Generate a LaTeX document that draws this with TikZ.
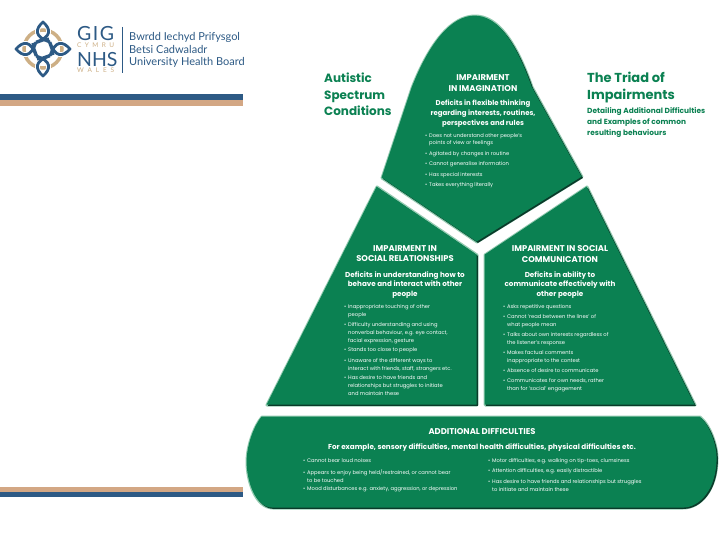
\documentclass[tikz,border=0pt]{standalone}
\usepackage{fontspec}
\setmainfont{Poppins}
\newfontfamily\lato{Lato}
\definecolor{gmain}{HTML}{0B8152}
\definecolor{gdark}{HTML}{0B3A2A}
\definecolor{glight}{HTML}{92CBB0}
\definecolor{nblue}{HTML}{2D5A85}
\definecolor{ntan}{HTML}{D3A784}
\definecolor{nring}{HTML}{CDAF85}
\newcommand{\pTop}{(382,178) -- (412,88) .. controls (430,42) and (452,16) .. (475,16) .. controls (498,16) and (516,42) .. (532,87) -- (582,177) -- (477,242) -- cycle}
\newcommand{\pLeft}{(377,187) -- (477,255) -- (477,405) -- (267,405) -- cycle}
\newcommand{\pRight}{(587,187) -- (695,405) -- (485,405) -- (485,255) -- cycle}
\newcommand{\pBot}{(262,417) -- (700,417) .. controls (710,425) and (717,445) .. (717,458) .. controls (717,490) and (700,508) .. (683,508) -- (273,508) .. controls (255,508) and (247,480) .. (247,462) .. controls (247,445) and (255,425) .. (262,417) -- cycle}
\newcommand{\panel}[1]{%
  \draw[glight,line width=3,line join=round] #1;
  \begin{scope}[shift={(0.9,0.9)}]\fill[gdark] #1;\end{scope}
  \begin{scope}[shift={(-0.4,-0.4)}]\fill[gmain] #1;\end{scope}}
\newcommand{\spaced}[2]{\makebox[#1][s]{#2}}
\tikzset{
  title/.style={text=white,inner sep=0,align=center,font=\fontsize{8.4}{10.3}\selectfont\bfseries},
  sub/.style={text=white,inner sep=0,align=center,font=\fontsize{7.2}{9.8}\selectfont\bfseries},
  bul/.style={text=white,inner sep=0,align=left,anchor=north west,font=\fontsize{5.2}{8}\selectfont},
  head/.style={text=gmain,inner sep=0,align=left,anchor=north west,font=\fontsize{12}{16.4}\selectfont\bfseries},
  logo/.style={text=nblue,inner sep=0,anchor=west,font=\lato\fontsize{11}{13}\selectfont},
}
\newcommand{\bu}{\llap{•\hspace{2pt}}}
\begin{document}
\begin{tikzpicture}[x=1pt,y=-1pt]
\useasboundingbox (0,0) rectangle (720,540);
\fill[white] (0,0) rectangle (720,540);
% bars
\fill[nblue] (0,94) rectangle (243,100);
\fill[ntan] (0,100) rectangle (243,106);
\fill[ntan] (0,487) rectangle (243,492);
\fill[nblue] (0,492) rectangle (243,497);
% logo
\draw[nring,line width=3.5] (43,49) circle (19);
\foreach \a in {0,90,180,270}{
  \begin{scope}[shift={(43,49)},rotate=\a]
   \draw[white,line width=4.6] (7,7) .. controls (12,-9) and (20,-8) .. (27,0) .. controls (20,8) and (12,9) .. (7,-7);
   \draw[nblue,line width=2.8,line join=round] (7,7) .. controls (12,-9) and (20,-8) .. (27,0) .. controls (20,8) and (12,9) .. (7,-7);
  \end{scope}}
\draw[nblue,line width=2.2,rotate around={20:(43,49)}] (35,41) rectangle (51,57);
\node[logo,font=\lato\fontsize{19.5}{20}\selectfont] (gig) at (77,34) {\spaced{37pt}{G\hfil I\hfil G}};
\node[logo,text=nring,font=\lato\fontsize{6.5}{7}\selectfont] (cymru) at (77,45.5) {\spaced{37pt}{C\hfil Y\hfil M\hfil R\hfil U}};
\node[logo,font=\lato\fontsize{19.5}{20}\selectfont] (nhs) at (77,60) {\spaced{37pt}{N\hfil H\hfil S}};
\node[logo,text=nring,font=\lato\fontsize{6.5}{7}\selectfont] (wales) at (77,70.5) {\spaced{37pt}{W\hfil A\hfil L\hfil E\hfil S}};
\draw[nblue,line width=0.8] (122.5,27) -- (122.5,73);
\node[logo] (l1) at (129,37) {Bwrdd Iechyd Prifysgol};
\node[logo] (l2) at (129,49.5) {Betsi Cadwaladr};
\node[logo] (l3) at (129,62.5) {University Health Board};
% panels
\panel{\pTop}
\panel{\pLeft}
\panel{\pRight}
\panel{\pBot}
% headings
\node[head] (h1) at (324,73) {Autistic\\Spectrum\\Conditions};
\node[head,font=\fontsize{13}{16.4}\selectfont\bfseries] (h2) at (587,72) {The Triad of\\Impairments};
\node[head,font=\fontsize{7.4}{11}\selectfont\bfseries] (h3) at (587,107) {Detailing Additional Difficulties\\and Examples of common\\resulting behaviours};
% top
\node[title] (t1) at (483,83) {IMPAIRMENT\\IN IMAGINATION};
\node[sub,font=\fontsize{7}{10}\selectfont\bfseries] (t2) at (483,114) {Deficits in flexible thinking\\regarding interests, routines,\\perspectives and rules};
\node[bul,font=\fontsize{5.2}{7.4}\selectfont] (t3) at (429,133) {\bu Does not understand other people's\\points of view or feelings};
\node[bul] (t4) at (429,151) {\bu Agitated by changes in routine};
\node[bul] (t5) at (429,161) {\bu Cannot generalise information};
\node[bul] (t6) at (429,172) {\bu Has special interests};
\node[bul] (t7) at (429,182) {\bu Takes everything literally};
% left
\node[title] (a1) at (405,253.5) {IMPAIRMENT IN\\SOCIAL RELATIONSHIPS};
\node[sub] (a2) at (405,285) {Deficits in understanding how to\\behave and interact with other\\people};
\node[bul] (a3) at (348,304) {\bu Inappropriate touching of other\\people};
\node[bul] (a4) at (348,322) {\bu Difficulty understanding and using\\nonverbal behaviour, e.g. eye contact,\\facial expression, gesture};
\node[bul] (a5) at (348,347) {\bu Stands too close to people};
\node[bul] (a6) at (348,358) {\bu Unaware of the different ways to\\interact with friends, staff, strangers etc.};
\node[bul] (a7) at (348,375) {\bu Has desire to have friends and\\relationships but struggles to initiate\\and maintain these};
% right
\node[title] (b1) at (560,254) {IMPAIRMENT IN SOCIAL\\COMMUNICATION};
\node[sub] (b2) at (560,285) {Deficits in ability to\\communicate effectively with\\other people};
\node[bul] (b3) at (507,304) {\bu Asks repetitive questions};
\node[bul] (b4) at (507,314) {\bu Cannot 'read between the lines' of\\what people mean};
\node[bul] (b5) at (507,332) {\bu Talks about own interests regardless of\\the listener's response};
\node[bul] (b6) at (507,350) {\bu Makes factual comments\\inappropriate to the context};
\node[bul] (b7) at (507,368) {\bu Absence of desire to communicate};
\node[bul] (b8) at (507,378) {\bu Communicates for own needs, rather\\than for 'social' engagement};
% bottom
\node[title] (c1) at (482,432) {ADDITIONAL DIFFICULTIES};
\node[sub] (c2) at (482,448) {For example, sensory difficulties, mental health difficulties, physical difficulties etc.};
\node[bul] (c3) at (307,458) {\bu Cannot bear loud noises};
\node[bul] (c4) at (307,469) {\bu Appears to enjoy being held/restrained, or cannot bear\\to be touched};
\node[bul] (c5) at (307,486) {\bu Mood disturbances e.g. anxiety, aggression, or depression};
\node[bul] (c6) at (492,458) {\bu Motor difficulties, e.g. walking on tip-toes, clumsiness};
\node[bul] (c7) at (492,468) {\bu Attention difficulties, e.g. easily distractible};
\node[bul] (c8) at (492,479) {\bu Has desire to have friends and relationships but struggles\\to initiate and maintain these};
\end{tikzpicture}
\end{document}
